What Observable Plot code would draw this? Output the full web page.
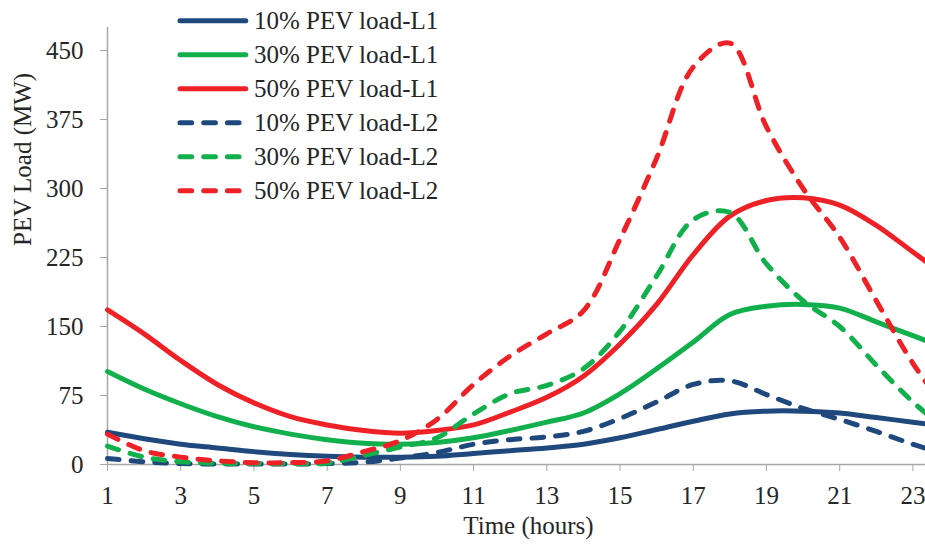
<!DOCTYPE html>
<html><head><meta charset="utf-8">
<script src="https://cdn.jsdelivr.net/npm/d3@7"></script>
<script src="https://cdn.jsdelivr.net/npm/@observablehq/plot@0.6"></script>
<style>
html,body{margin:0;padding:0;background:#fff;overflow:hidden;}
#wrap{position:relative;width:925px;height:548px;font-family:"Liberation Serif","Times New Roman",serif;}
#legend{position:absolute;left:0;top:0;}
</style></head><body><div id="wrap"></div>
<script>
const hours = [1,2,3,4,5,6,7,8,9,10,11,12,13,14,15,16,17,18,19,20,21,22,23,24];
const xTicks = [1,3,5,7,9,11,13,15,17,19,21,23];
const yTicks = [0,75,150,225,300,375,450];
const seriesNames = ["10% PEV load-L1","30% PEV load-L1","50% PEV load-L1","10% PEV load-L2","30% PEV load-L2","50% PEV load-L2"];
const seriesColors = ["#1f497d","#12b04c","#ee2127","#1f497d","#12b04c","#ee2127"];
const seriesDashed = [false,false,false,true,true,true];
const load10L1 = [35,28,22,18,14,11,9,8,8,9,12,15,18,22,29,38,47,55,58,58,56,51,46,41];
const load30L1 = [101,82,66,52,41,33,27,23,22,24,29,37,46,56,77,104,133,163,172,174,170,155,140,125];
const load50L1 = [168,142,113,87,67,52,43,37,34,37,43,57,73,96,131,174,228,270,287,290,282,260,231,202];
const load10L2 = [6.5,3,1,0.5,0.5,0.5,1,2.5,7,13,22,27,30,36,50,68,87,91,76,61,49,36,22,10];
const load30L2 = [20,8,3,1.5,1,1,1.5,10,19,29,55,77,86,104,145,205,266,274,218,178,150,108,68,35];
const load50L2 = [33,15,8,4,2,2,4,14,26,49,87,118,142,167,245,333,432,458,367,300,247,178,110,55];
const seriesValues = [load10L1,load30L1,load50L1,load10L2,load30L2,load50L2];

const FONT = '"Liberation Serif","Times New Roman",serif';
const axisGray = "#a6a6a6";
const textColor = "#262626";
const dash = "11.7,12";

const lineMarks = seriesNames.map((name, i) => {
  const rows = hours.map((h, j) => ({hour: h, value: seriesValues[i][j], series: name}));
  return Plot.line(rows, {
    x: "hour", y: "value", stroke: seriesColors[i], strokeWidth: 5,
    strokeDasharray: seriesDashed[i] ? dash : null,
    strokeLinecap: "round", strokeLinejoin: "round", curve: "catmull-rom"
  });
});

const chart = Plot.plot({
  width: 925, height: 548,
  marginLeft: 107, marginRight: -24, marginTop: 27, marginBottom: 84,
  x: {domain: [1, 24]},
  y: {domain: [0, 475]},
  style: {fontFamily: FONT, fontSize: "25px", color: textColor, background: "white"},
  marks: [
    Plot.axisX({ticks: xTicks, tickSize: 7, tickPadding: 15, stroke: axisGray, fill: textColor, label: null, fontSize: 25}),
    Plot.axisY({ticks: yTicks, tickSize: 7, tickPadding: 17, stroke: axisGray, fill: textColor, label: null, fontSize: 25}),
    Plot.ruleY([0], {stroke: axisGray, strokeWidth: 1.5}),
    Plot.ruleX([1], {stroke: axisGray, strokeWidth: 1.5}),
    ...lineMarks,
    Plot.text(["Time (hours)"], {frameAnchor: "bottom", dy: 69, fontSize: 25, fill: textColor}),
    Plot.text(["PEV Load (MW)"], {frameAnchor: "left", dx: -85, rotate: -90, fontSize: 25, fill: textColor})
  ]
});
const wrap = document.getElementById("wrap");
wrap.appendChild(chart);

// legend overlay
const leg = d3.select(wrap).append("svg").attr("id","legend")
  .attr("width", 925).attr("height", 220)
  .style("pointer-events","none");
seriesNames.forEach((name, i) => {
  const cy = 20.7 + i * 34;
  leg.append("line").attr("x1", 180).attr("x2", seriesDashed[i] ? 245 : 245.8)
    .attr("y1", cy).attr("y2", cy)
    .attr("stroke", seriesColors[i]).attr("stroke-width", 5)
    .attr("stroke-linecap", "round")
    .attr("stroke-dasharray", seriesDashed[i] ? dash : null);
  leg.append("text").attr("x", 254).attr("y", cy + 8.5)
    .attr("font-family", FONT).attr("font-size", 25).attr("fill", textColor)
    .text(name);
});
</script></body></html>
